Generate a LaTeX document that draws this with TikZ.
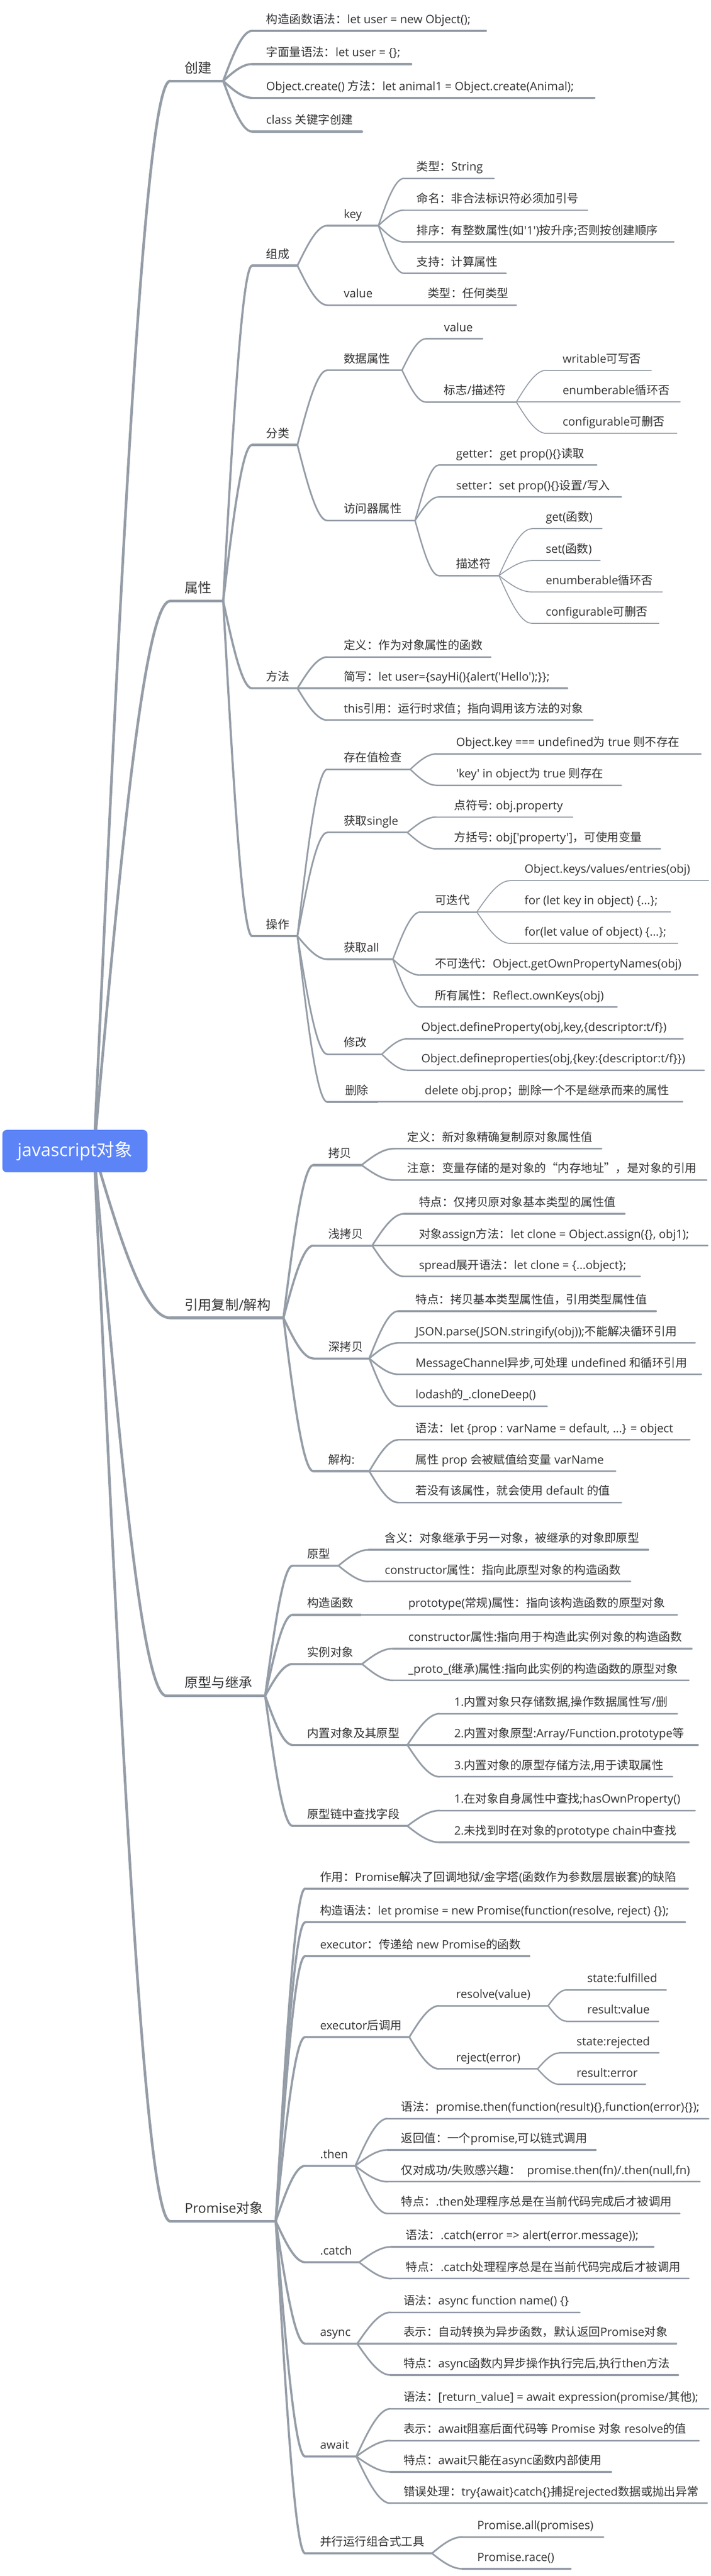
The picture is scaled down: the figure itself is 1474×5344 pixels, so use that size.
\documentclass[tikz,border=0pt]{standalone}
\usepackage{fontspec}
\usetikzlibrary{calc}
\newfontfamily\latfont{Open Sans}
\newfontfamily\cjkfont{Noto Sans CJK SC}
\XeTeXinterchartokenstate=1
\newXeTeXintercharclass\CJKcls
\newcount\cjkc
\def\setcjkrange#1#2{\cjkc=#1 \loop\XeTeXcharclass\cjkc=\CJKcls \ifnum\cjkc<#2 \advance\cjkc by 1 \repeat}
\setcjkrange{"3000}{"303F}
\setcjkrange{"4E00}{"9FFF}
\setcjkrange{"FF00}{"FFEF}
\XeTeXcharclass"201C=\CJKcls
\XeTeXcharclass"201D=\CJKcls
\XeTeXinterchartoks 0 \CJKcls = {\cjkfont}
\XeTeXinterchartoks 4095 \CJKcls = {\cjkfont}
\XeTeXinterchartoks \CJKcls 0 = {\latfont}
\XeTeXinterchartoks \CJKcls 4095 = {\latfont}
\definecolor{lncol}{RGB}{149,157,167}
\definecolor{txtcol}{RGB}{51,51,51}
\definecolor{rootcol}{RGB}{92,132,247}
\tikzset{
  lnbase/.style={draw=lncol, line cap=round},
  ln1/.style={lnbase, line width=5.5pt},
  ln2/.style={lnbase, line width=4.5pt},
  ln3/.style={lnbase, line width=3.5pt},
  ln4/.style={lnbase, line width=3pt},
  ln5/.style={lnbase, line width=2pt},
  txt/.style={anchor=base west, inner sep=0pt, text=txtcol},
  tx1/.style={txt, font=\latfont\fontsize{28}{32}\selectfont, yshift=1.5pt},
  tx2/.style={txt, font=\latfont\fontsize{24}{28}\selectfont},
  tx3/.style={tx2}, tx4/.style={tx2}, tx5/.style={tx2},
  rootbox/.style={rectangle, rounded corners=9pt, fill=rootcol, minimum width=301pt,
    minimum height=88pt, inner sep=0pt, text=white, font=\latfont\fontsize{37}{40}\selectfont}
}
% name, level, x start, x end, y of underline, x of text, text
\newcommand\tp[7]{%
  \coordinate (#1-s) at (#3,#5);
  \coordinate (#1-e) at (#4,#5);
  \draw[ln#2] (#1-s) -- (#1-e);
  \node[tx#2] (#1) at (#6,#5-15.5) {#7};}
% parent, child, level
\newcommand\cn[3]{\draw[ln#3] let \p1=(#1-e), \p2=(#2-s) in (\p1) .. controls ({0.5*\x1+0.5*(\x2-0.35*(\x2-\x1))},{0.5*(\y1+\y2)}) and ({\x2-0.35*(\x2-\x1)},\y2) .. (\p2);}
\newcommand\cns[3]{\foreach \cc in {#3} {\cn{#1}{\cc}{#2}}}
\begin{document}
\begin{tikzpicture}[x=1pt,y=-1pt]
\useasboundingbox (0,0) rectangle (1474,5344);
\coordinate (root-e) at (195,2388);
% level 1
\tp{cj}{1}{353}{463}{168}{383}{创建}
\tp{sx}{1}{353}{463}{1247}{383}{属性}
\tp{yy}{1}{353}{588}{2734}{383}{引用复制/解构}
\tp{yx}{1}{345}{550}{3518}{383}{原型与继承}
\tp{pm}{1}{353}{572}{4608}{383}{Promise对象}
% 创建
\tp{cja}{2}{523}{1008}{64}{552}{构造函数语法：let user = new Object();}
\tp{cjb}{2}{523}{853}{133}{552}{字面量语法：let user = \{\};}
\tp{cjc}{2}{523}{1233}{203}{552}{Object.create() 方法：let animal1 = Object.create(Animal);}
\tp{cjd}{2}{523}{751}{273}{552}{class 关键字创建}
% 属性
\tp{zc}{2}{523}{617}{551}{552}{组成}
\tp{fl}{2}{523}{617}{923}{552}{分类}
\tp{ff}{2}{523}{617}{1428}{552}{方法}
\tp{cz}{2}{523}{617}{1942}{552}{操作}
\tp{key}{3}{679}{785}{468}{713}{key}
\tp{val}{3}{679}{791}{633}{713}{value}
\tp{keya}{4}{838}{1025}{370}{864}{类型：String}
\tp{keyb}{4}{838}{1219}{436}{864}{命名：非合法标识符必须加引号}
\tp{keyc}{4}{838}{1398}{502}{864}{排序：有整数属性(如'1')按升序;否则按创建顺序}
\tp{keyd}{4}{838}{1050}{567}{864}{支持：计算属性}
\tp{vala}{4}{857}{1071}{633}{887}{类型：任何类型}
\tp{sj}{3}{679}{834}{768}{713}{数据属性}
\tp{fw}{3}{679}{861}{1080}{713}{访问器属性}
\tp{sja}{4}{883}{1001}{703}{921}{value}
\tp{bz}{4}{883}{1071}{834}{921}{标志/描述符}
\tp{bza}{5}{1133}{1351}{768}{1167}{writable可写否}
\tp{bzb}{5}{1133}{1411}{834}{1167}{enumberable循环否}
\tp{bzc}{5}{1133}{1404}{899}{1167}{configurable可删否}
\tp{gt}{4}{910}{1238}{965}{946}{getter：get prop()\{\}读取}
\tp{st}{4}{910}{1289}{1031}{946}{setter：set prop()\{\}设置/写入}
\tp{ms}{4}{910}{1035}{1194}{946}{描述符}
\tp{msa}{5}{1103}{1249}{1097}{1132}{get(函数)}
\tp{msb}{5}{1103}{1245}{1163}{1132}{set(函数)}
\tp{msc}{5}{1103}{1374}{1228}{1132}{enumberable循环否}
\tp{msd}{5}{1103}{1367}{1293}{1132}{configurable可删否}
\tp{ffa}{3}{679}{1018}{1363}{713}{定义：作为对象属性的函数}
\tp{ffb}{3}{679}{1177}{1428}{713}{简写：let user=\{sayHi()\{alert('Hello');\}\};}
\tp{ffc}{3}{679}{1230}{1494}{713}{this引用：运行时求值；指向调用该方法的对象}
\tp{cza}{3}{679}{851}{1596}{713}{存在值检查}
\tp{czb}{3}{679}{845}{1727}{713}{获取single}
\tp{czc}{3}{679}{815}{1990}{713}{获取all}
\tp{czd}{3}{679}{792}{2187}{713}{修改}
\tp{cze}{3}{679}{783}{2286}{716}{删除}
\tp{czaa}{4}{905}{1454}{1564}{946}{Object.key === undefined为 true 则不存在}
\tp{czab}{4}{905}{1289}{1629}{946}{'key' in object为 true 则存在}
\tp{czba}{4}{905}{1188}{1695}{942}{点符号: obj.property}
\tp{czbb}{4}{905}{1370}{1761}{942}{方括号: obj['property']，可使用变量}
\tp{kd}{4}{872}{989}{1892}{902}{可迭代}
\tp{czcb}{4}{872}{1448}{2023}{902}{不可迭代：Object.getOwnPropertyNames(obj)}
\tp{czcc}{4}{872}{1280}{2089}{902}{所有属性：Reflect.ownKeys(obj)}
\tp{kda}{5}{1058}{1470}{1827}{1088}{Object.keys/values/entries(obj)}
\tp{kdb}{5}{1058}{1391}{1892}{1088}{for (let key in object) \{...\};}
\tp{kdc}{5}{1058}{1406}{1957}{1088}{for(let value of object) \{...\};}
\tp{czda}{4}{845}{1417}{2155}{874}{Object.defineProperty(obj,key,\{descriptor:t/f\})}
\tp{czdb}{4}{845}{1461}{2220}{874}{Object.defineproperties(obj,\{key:\{descriptor:t/f\}\})}
\tp{czea}{4}{850}{1416}{2286}{881}{delete obj.prop；删除一个不是继承而来的属性}
% 引用复制/解构
\tp{kb}{2}{650}{750}{2417}{681}{拷贝}
\tp{qkb}{2}{650}{772}{2584}{681}{浅拷贝}
\tp{skb}{2}{650}{766}{2818}{681}{深拷贝}
\tp{jg}{2}{650}{766}{3052}{681}{解构:}
\tp{kba}{3}{817}{1248}{2383}{845}{定义：新对象精确复制原对象属性值}
\tp{kbb}{3}{817}{1466}{2448}{845}{注意：变量存储的是对象的“内存地址”，是对象的引用}
\tp{qkba}{3}{838}{1296}{2518}{869}{特点：仅拷贝原对象基本类型的属性值}
\tp{qkbb}{3}{838}{1468}{2584}{869}{对象assign方法：let clone = Object.assign(\{\}, obj1);}
\tp{qkbc}{3}{838}{1328}{2648}{869}{spread展开语法：let clone = \{...object\};}
\tp{skba}{3}{826}{1361}{2720}{862}{特点：拷贝基本类型属性值，引用类型属性值}
\tp{skbb}{3}{826}{1442}{2786}{862}{JSON.parse(JSON.stringify(obj));不能解决循环引用}
\tp{skbc}{3}{826}{1455}{2851}{862}{MessageChannel异步,可处理 undefined 和循环引用}
\tp{skbd}{3}{826}{1135}{2917}{862}{lodash的\_.cloneDeep()}
\tp{jga}{3}{826}{1431}{2987}{862}{语法：let \{prop : varName = default, ...\} = object}
\tp{jgb}{3}{826}{1277}{3052}{862}{属性 prop 会被赋值给变量 varName}
\tp{jgc}{3}{826}{1289}{3117}{862}{若没有该属性，就会使用 default 的值}
% 原型与继承
\tp{yxa}{2}{607}{702}{3248}{637}{原型}
\tp{yxb}{2}{607}{748}{3350}{637}{构造函数}
\tp{yxc}{2}{607}{751}{3452}{637}{实例对象}
\tp{yxd}{2}{607}{845}{3620}{637}{内置对象及其原型}
\tp{yxe}{2}{607}{845}{3788}{637}{原型链中查找字段}
\tp{yxaa}{3}{765}{1345}{3215}{798}{含义：对象继承于另一对象，被继承的对象即原型}
\tp{yxab}{3}{765}{1308}{3281}{798}{constructor属性：指向此原型对象的构造函数}
\tp{yxba}{3}{815}{1405}{3350}{847}{prototype(常规)属性：指向该构造函数的原型对象}
\tp{yxca}{3}{815}{1435}{3420}{847}{constructor属性:指向用于构造此实例对象的构造函数}
\tp{yxcb}{3}{815}{1429}{3486}{847}{\_proto\_(继承)属性:指向此实例的构造函数的原型对象}
\tp{yxda}{3}{912}{1405}{3555}{942}{1.内置对象只存储数据,操作数据属性写/删}
\tp{yxdb}{3}{912}{1448}{3620}{942}{2.内置对象原型:Array/Function.prototype等}
\tp{yxdc}{3}{912}{1395}{3686}{942}{3.内置对象的原型存储方法,用于读取属性}
\tp{yxea}{3}{912}{1442}{3756}{942}{1.在对象自身属性中查找;hasOwnProperty()}
\tp{yxeb}{3}{912}{1429}{3822}{942}{2.未找到时在对象的prototype chain中查找}
% Promise对象
\tp{pma}{2}{633}{1427}{3918}{664}{作用：Promise解决了回调地狱/金字塔(函数作为参数层层嵌套)的缺陷}
\tp{pmb}{2}{633}{1421}{3988}{664}{构造语法：let promise = new Promise(function(resolve, reject) \{\});}
\tp{pmc}{2}{633}{1098}{4058}{664}{executor：传递给 new Promise的函数}
\tp{pmd}{2}{633}{849}{4226}{664}{executor后调用}
\tp{pme}{2}{633}{737}{4493}{664}{.then}
\tp{pmf}{2}{633}{745}{4693}{664}{.catch}
\tp{pmg}{2}{633}{741}{4862}{664}{async}
\tp{pmh}{2}{633}{739}{5096}{664}{await}
\tp{pmi}{2}{633}{896}{5297}{664}{并行运行组合式工具}
\tp{rs}{3}{911}{1137}{4161}{946}{resolve(value)}
\tp{rj}{3}{911}{1115}{4292}{946}{reject(error)}
\tp{rsa}{4}{1175}{1382}{4128}{1218}{state:fulfilled}
\tp{rsb}{4}{1175}{1366}{4193}{1218}{result:value}
\tp{rja}{4}{1160}{1367}{4259}{1196}{state:rejected}
\tp{rjb}{4}{1160}{1339}{4324}{1196}{result:error}
\tp{pmea}{3}{804}{1470}{4395}{832}{语法：promise.then(function(result)\{\},function(error)\{\});}
\tp{pmeb}{3}{804}{1236}{4460}{832}{返回值：一个promise,可以链式调用}
\tp{pmec}{3}{804}{1452}{4526}{832}{仅对成功/失败感兴趣：\ \ promise.then(fn)/.then(null,fn)}
\tp{pmed}{3}{804}{1410}{4592}{832}{特点：.then处理程序总是在当前代码完成后才被调用}
\tp{pmfa}{3}{812}{1356}{4661}{842}{语法：.catch(error => alert(error.message));}
\tp{pmfb}{3}{812}{1429}{4727}{842}{特点：.catch处理程序总是在当前代码完成后才被调用}
\tp{pmga}{3}{810}{1203}{4797}{837}{语法：async function name() \{\}}
\tp{pmgb}{3}{810}{1403}{4862}{837}{表示：自动转换为异步函数，默认返回Promise对象}
\tp{pmgc}{3}{810}{1407}{4927}{837}{特点：async函数内异步操作执行完后,执行then方法}
\tp{pmha}{3}{810}{1470}{4997}{837}{语法：[return\_value] = await expression(promise/其他);}
\tp{pmhb}{3}{810}{1450}{5063}{837}{表示：await阻塞后面代码等 Promise 对象 resolve的值}
\tp{pmhc}{3}{810}{1268}{5128}{837}{特点：await只能在async函数内部使用}
\tp{pmhd}{3}{810}{1467}{5193}{837}{错误处理：try\{await\}catch\{\}捕捉rejected数据或抛出异常}
\tp{pmia}{3}{959}{1252}{5263}{990}{Promise.all(promises)}
\tp{pmib}{3}{959}{1184}{5329}{990}{Promise.race()}
% connectors
\cns{root}{1}{cj,sx,yy,yx,pm}
\cns{cj}{2}{cja,cjb,cjc,cjd}
\cns{sx}{2}{zc,fl,ff,cz}
\cns{zc}{3}{key,val}
\cns{key}{4}{keya,keyb,keyc,keyd}
\cns{val}{4}{vala}
\cns{fl}{3}{sj,fw}
\cns{sj}{4}{sja,bz}
\cns{bz}{5}{bza,bzb,bzc}
\cns{fw}{4}{gt,st,ms}
\cns{ms}{5}{msa,msb,msc,msd}
\cns{ff}{3}{ffa,ffb,ffc}
\cns{cz}{3}{cza,czb,czc,czd,cze}
\cns{cza}{4}{czaa,czab}
\cns{czb}{4}{czba,czbb}
\cns{czc}{4}{kd,czcb,czcc}
\cns{kd}{5}{kda,kdb,kdc}
\cns{czd}{4}{czda,czdb}
\cns{cze}{4}{czea}
\cns{yy}{2}{kb,qkb,skb,jg}
\cns{kb}{3}{kba,kbb}
\cns{qkb}{3}{qkba,qkbb,qkbc}
\cns{skb}{3}{skba,skbb,skbc,skbd}
\cns{jg}{3}{jga,jgb,jgc}
\cns{yx}{2}{yxa,yxb,yxc,yxd,yxe}
\cns{yxa}{3}{yxaa,yxab}
\cns{yxb}{3}{yxba}
\cns{yxc}{3}{yxca,yxcb}
\cns{yxd}{3}{yxda,yxdb,yxdc}
\cns{yxe}{3}{yxea,yxeb}
\cns{pm}{2}{pma,pmb,pmc,pmd,pme,pmf,pmg,pmh,pmi}
\cns{pmd}{3}{rs,rj}
\cns{rs}{4}{rsa,rsb}
\cns{rj}{4}{rja,rjb}
\cns{pme}{3}{pmea,pmeb,pmec,pmed}
\cns{pmf}{3}{pmfa,pmfb}
\cns{pmg}{3}{pmga,pmgb,pmgc}
\cns{pmh}{3}{pmha,pmhb,pmhc,pmhd}
\cns{pmi}{3}{pmia,pmib}
% root
\node[rootbox] (root) at (155.5,2388) {javascript对象};
\end{tikzpicture}
\end{document}
